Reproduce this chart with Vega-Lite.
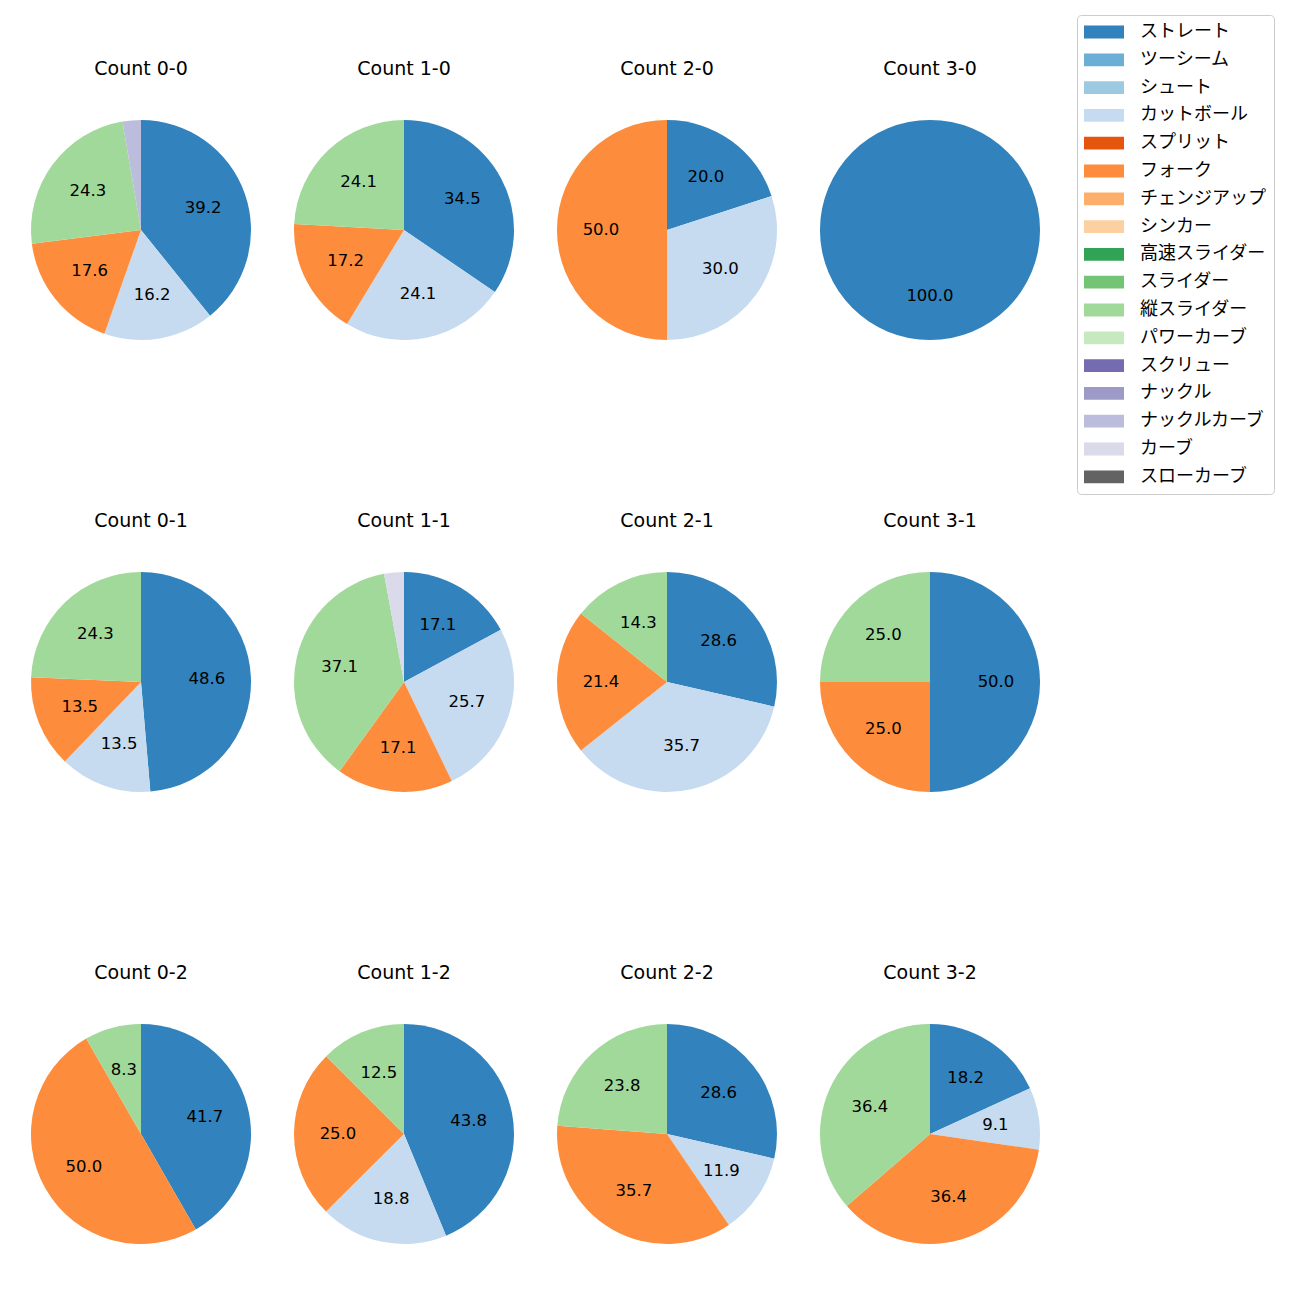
{
  "$schema": "https://vega.github.io/schema/vega-lite/v6.json",
  "autosize": {"type": "none"},
  "padding": {"left": 31, "top": 120, "right": 1269, "bottom": 1180},
  "data": {"values": [
    {"count": "Count 0-0", "pitch": "ストレート", "idx": 0, "pct": 39.2},
    {"count": "Count 0-0", "pitch": "カットボール", "idx": 3, "pct": 16.2},
    {"count": "Count 0-0", "pitch": "フォーク", "idx": 5, "pct": 17.6},
    {"count": "Count 0-0", "pitch": "縦スライダー", "idx": 10, "pct": 24.3},
    {"count": "Count 0-0", "pitch": "ナックルカーブ", "idx": 14, "pct": 2.7},
    {"count": "Count 1-0", "pitch": "ストレート", "idx": 0, "pct": 34.5},
    {"count": "Count 1-0", "pitch": "カットボール", "idx": 3, "pct": 24.1},
    {"count": "Count 1-0", "pitch": "フォーク", "idx": 5, "pct": 17.2},
    {"count": "Count 1-0", "pitch": "縦スライダー", "idx": 10, "pct": 24.1},
    {"count": "Count 2-0", "pitch": "ストレート", "idx": 0, "pct": 20.0},
    {"count": "Count 2-0", "pitch": "カットボール", "idx": 3, "pct": 30.0},
    {"count": "Count 2-0", "pitch": "フォーク", "idx": 5, "pct": 50.0},
    {"count": "Count 3-0", "pitch": "ストレート", "idx": 0, "pct": 100.0},
    {"count": "Count 0-1", "pitch": "ストレート", "idx": 0, "pct": 48.6},
    {"count": "Count 0-1", "pitch": "カットボール", "idx": 3, "pct": 13.5},
    {"count": "Count 0-1", "pitch": "フォーク", "idx": 5, "pct": 13.5},
    {"count": "Count 0-1", "pitch": "縦スライダー", "idx": 10, "pct": 24.3},
    {"count": "Count 1-1", "pitch": "ストレート", "idx": 0, "pct": 17.1},
    {"count": "Count 1-1", "pitch": "カットボール", "idx": 3, "pct": 25.7},
    {"count": "Count 1-1", "pitch": "フォーク", "idx": 5, "pct": 17.1},
    {"count": "Count 1-1", "pitch": "縦スライダー", "idx": 10, "pct": 37.1},
    {"count": "Count 1-1", "pitch": "カーブ", "idx": 15, "pct": 2.9},
    {"count": "Count 2-1", "pitch": "ストレート", "idx": 0, "pct": 28.6},
    {"count": "Count 2-1", "pitch": "カットボール", "idx": 3, "pct": 35.7},
    {"count": "Count 2-1", "pitch": "フォーク", "idx": 5, "pct": 21.4},
    {"count": "Count 2-1", "pitch": "縦スライダー", "idx": 10, "pct": 14.3},
    {"count": "Count 3-1", "pitch": "ストレート", "idx": 0, "pct": 50.0},
    {"count": "Count 3-1", "pitch": "フォーク", "idx": 5, "pct": 25.0},
    {"count": "Count 3-1", "pitch": "縦スライダー", "idx": 10, "pct": 25.0},
    {"count": "Count 0-2", "pitch": "ストレート", "idx": 0, "pct": 41.7},
    {"count": "Count 0-2", "pitch": "フォーク", "idx": 5, "pct": 50.0},
    {"count": "Count 0-2", "pitch": "縦スライダー", "idx": 10, "pct": 8.3},
    {"count": "Count 1-2", "pitch": "ストレート", "idx": 0, "pct": 43.8},
    {"count": "Count 1-2", "pitch": "カットボール", "idx": 3, "pct": 18.8},
    {"count": "Count 1-2", "pitch": "フォーク", "idx": 5, "pct": 25.0},
    {"count": "Count 1-2", "pitch": "縦スライダー", "idx": 10, "pct": 12.5},
    {"count": "Count 2-2", "pitch": "ストレート", "idx": 0, "pct": 28.6},
    {"count": "Count 2-2", "pitch": "カットボール", "idx": 3, "pct": 11.9},
    {"count": "Count 2-2", "pitch": "フォーク", "idx": 5, "pct": 35.7},
    {"count": "Count 2-2", "pitch": "縦スライダー", "idx": 10, "pct": 23.8},
    {"count": "Count 3-2", "pitch": "ストレート", "idx": 0, "pct": 18.2},
    {"count": "Count 3-2", "pitch": "カットボール", "idx": 3, "pct": 9.1},
    {"count": "Count 3-2", "pitch": "フォーク", "idx": 5, "pct": 36.4},
    {"count": "Count 3-2", "pitch": "縦スライダー", "idx": 10, "pct": 36.4}
  ]},
  "facet": {
    "field": "count", "type": "nominal",
    "sort": ["Count 0-0", "Count 1-0", "Count 2-0", "Count 3-0", "Count 0-1", "Count 1-1", "Count 2-1", "Count 3-1", "Count 0-2", "Count 1-2", "Count 2-2", "Count 3-2"],
    "header": {"title": null, "labelFontSize": 19, "labelFont": "DejaVu Sans", "labelColor": "#000000", "labelPadding": 41.5}
  },
  "columns": 4,
  "spacing": {"column": 43, "row": 171},
  "spec": {
    "width": 220,
    "height": 220,
    "encoding": {
      "theta": {"field": "pct", "type": "quantitative", "stack": "normalize"},
      "order": {"field": "idx", "type": "quantitative"}
    },
    "layer": [
      {
        "mark": {"type": "arc", "outerRadius": 110},
        "encoding": {
          "color": {
            "field": "pitch", "type": "nominal",
            "scale": {
              "domain": ["ストレート", "ツーシーム", "シュート", "カットボール", "スプリット", "フォーク", "チェンジアップ", "シンカー", "高速スライダー", "スライダー", "縦スライダー", "パワーカーブ", "スクリュー", "ナックル", "ナックルカーブ", "カーブ", "スローカーブ"],
              "range": ["#3182bd", "#6baed6", "#9ecae1", "#c6dbef", "#e6550d", "#fd8d3c", "#fdae6b", "#fdd0a2", "#31a354", "#74c476", "#a1d99b", "#c7e9c0", "#756bb1", "#9e9ac8", "#bcbddc", "#dadaeb", "#636363"]
            },
            "legend": {
              "title": null,
              "orient": "none",
              "legendX": 1046,
              "legendY": -105,
              "labelFont": "Noto Sans CJK JP",
              "labelFontSize": 18,
              "labelColor": "#000000",
              "labelOffset": 37,
              "labelLimit": 300,
              "symbolType": "M-1.25,-0.8H3.75V0.8H-1.25Z",
              "symbolSize": 256,
              "symbolStrokeWidth": 0,
              "symbolOpacity": 1,
              "rowPadding": 9.8,
              "padding": 8,
              "strokeColor": "#cccccc",
              "cornerRadius": 4
            }
          }
        }
      },
      {
        "mark": {"type": "text", "radius": 66, "fontSize": 16.5, "font": "DejaVu Sans", "color": "#000000"},
        "encoding": {
          "text": {
            "condition": {"test": "datum.pct < 5", "value": ""},
            "field": "pct", "type": "quantitative", "format": ".1f"
          }
        }
      }
    ]
  },
  "config": {"view": {"stroke": null}}
}
